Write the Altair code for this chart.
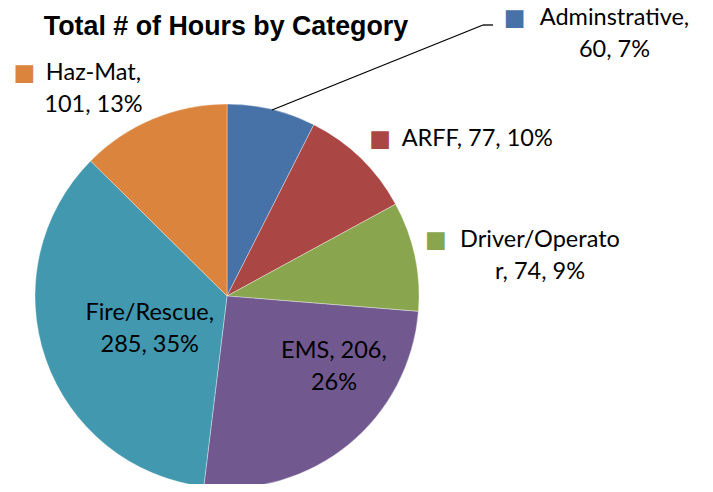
import math
import altair as alt
import pandas as pd

# ---- data ----
categories = ["Adminstrative", "ARFF", "Driver/Operator", "EMS", "Fire/Rescue", "Haz-Mat"]
hours = [60, 77, 74, 206, 285, 101]
percents = [7, 10, 9, 26, 35, 13]
colors = ["#4672A8", "#AA4643", "#89A54E", "#71588F", "#4198AF", "#DB843D"]
title_text = "Total # of Hours by Category"

# how each data label is wrapped in the reference
wrap = ["after_name", "none", "char14", "after_value", "after_name", "after_name"]


def make_label(name, value, pct, mode):
    full = f"{name}, {value}, {pct}%"
    if mode == "none":
        return [full]
    if mode == "after_name":
        return [f"{name},", f"{value}, {pct}%"]
    if mode == "after_value":
        return [f"{name}, {value},", f"{pct}%"]
    if mode == "char14":
        return [full[:14], full[14:]]
    return [full]


labels = [make_label(c, h, p, m) for c, h, p, m in zip(categories, hours, percents, wrap)]

df = pd.DataFrame({
    "category": categories,
    "hours": hours,
    "order": list(range(len(categories))),
    "label": labels,
    "key": ["\u25A0"] * len(categories),
})

# ---- layout / style ----
CX, CY, R = 219, 288, 192
W, H = 697, 476
FONT = "Lato"
FS = 23.5
LH = 32

# per-label placement (polar radius from the slice's mid angle + pixel offset of block centre)
label_style = {
    "Adminstrative": dict(r=230, dx=334, dy=-38, has_key=True, kdx=234, kdy=-54),
    "ARFF": dict(r=230, dx=90, dy=8, has_key=True, kdx=-7, kdy=8),
    "Driver/Operator": dict(r=230, dx=88, dy=8, has_key=True, kdx=-16, kdy=-8),
    "EMS": dict(r=128, dx=26, dy=-28, has_key=False),
    "Fire/Rescue": dict(r=86, dx=4, dy=5, has_key=False),
    "Haz-Mat": dict(r=230, dx=-45, dy=5, has_key=True, kdx=-114, kdy=-11),
}

theta_scale = alt.Scale(domain=[0, 1], range=[0, 2 * math.pi])
color_scale = alt.Scale(domain=categories, range=colors)

base = (
    alt.Chart(df)
    .transform_joinaggregate(total="sum(hours)")
    .transform_window(cum="sum(hours)", sort=[alt.SortField("order")], frame=[None, 0])
    .transform_calculate(
        f1="datum.cum / datum.total",
        f0="(datum.cum - datum.hours) / datum.total",
    )
    .transform_calculate(fm="(datum.f0 + datum.f1) / 2")
)

arcs = base.mark_arc(radius=R, stroke="#ffffff", strokeWidth=0.6, strokeOpacity=0.6).encode(
    theta=alt.Theta("f0:Q", scale=theta_scale, stack=None),
    theta2="f1:Q",
    color=alt.Color("category:N", scale=color_scale, legend=None),
    x=alt.value(CX),
    y=alt.value(CY),
)

layers = [arcs]
for i, cat in enumerate(categories):
    st = label_style[cat]
    nlines = len(labels[i])
    sub = base.transform_filter(alt.datum.order == i)
    layers.append(
        sub.mark_text(
            radius=st["r"], dx=st["dx"], dy=st["dy"] - (nlines - 1) * LH / 2,
            font=FONT, fontSize=FS, lineHeight=LH, align="center",
            baseline="middle", color="#000000",
        ).encode(
            theta=alt.Theta("fm:Q", scale=theta_scale, stack=None),
            text="label:N",
            x=alt.value(CX),
            y=alt.value(CY),
        )
    )
    if st["has_key"]:
        layers.append(
            sub.mark_text(
                radius=st["r"], dx=st["kdx"], dy=st["kdy"], font="DejaVu Sans",
                fontSize=23, align="center", baseline="middle",
            ).encode(
                theta=alt.Theta("fm:Q", scale=theta_scale, stack=None),
                text="key:N",
                color=alt.Color("category:N", scale=color_scale, legend=None),
                x=alt.value(CX),
                y=alt.value(CY),
            )
        )

one = pd.DataFrame({"t": [title_text]})
title = alt.Chart(one).mark_text(
    font="Liberation Sans", fontWeight="bold", fontSize=26.8, align="center",
    baseline="middle", color="#000000",
).encode(text="t:N", x=alt.value(218), y=alt.value(19))

leader1 = alt.Chart(one).mark_rule(color="#000000", strokeWidth=1.3).encode(
    x=alt.value(264), y=alt.value(102), x2=alt.value(475), y2=alt.value(17)
)
leader2 = alt.Chart(one).mark_rule(color="#000000", strokeWidth=1.3).encode(
    x=alt.value(475), y=alt.value(17), x2=alt.value(485), y2=alt.value(17)
)

chart = (
    alt.layer(*layers, title, leader1, leader2)
    .properties(width=W, height=H, padding=0, autosize="none", background="#ffffff")
    .configure_view(stroke=None)
)

chart.save("out.html", embed_options={"renderer": "svg", "actions": False})
